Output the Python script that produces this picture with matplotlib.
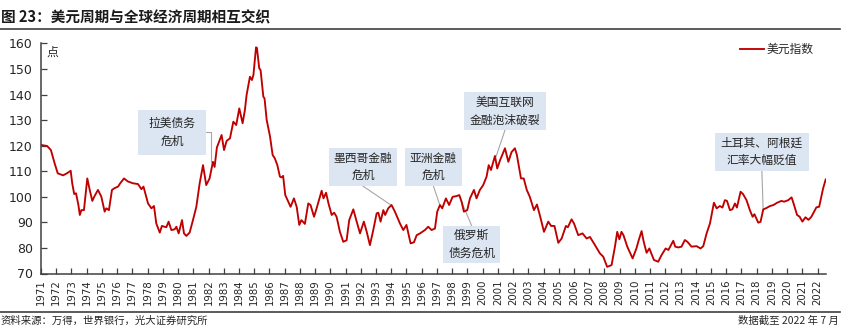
import matplotlib
matplotlib.use('Agg')
import matplotlib.pyplot as plt
from matplotlib.patches import Rectangle
from matplotlib.lines import Line2D

# ---------------- data ----------------
years = [
    1971.00, 1971.40, 1971.65, 1971.80, 1971.90, 1972.10, 1972.45, 1972.70, 1972.95,
    1973.05, 1973.18, 1973.30, 1973.45, 1973.55, 1973.65, 1973.82, 1974.04, 1974.20,
    1974.37, 1974.50, 1974.74, 1974.96, 1975.18, 1975.29, 1975.46, 1975.66, 1975.83,
    1976.06, 1976.20, 1976.45, 1976.71, 1977.04, 1977.37, 1977.59, 1977.73, 1978.03,
    1978.25, 1978.42, 1978.57, 1978.80, 1978.94, 1979.23, 1979.38, 1979.56, 1979.78,
    1979.89, 1980.04, 1980.26, 1980.39, 1980.54, 1980.76, 1980.98, 1981.20, 1981.42,
    1981.64, 1981.85, 1982.07, 1982.29, 1982.40, 1982.55, 1982.86, 1983.02, 1983.19,
    1983.41, 1983.63, 1983.82, 1984.02, 1984.24, 1984.39, 1984.50, 1984.72, 1984.85,
    1984.95, 1985.12, 1985.18, 1985.33, 1985.42, 1985.60, 1985.68, 1985.82, 1986.04,
    1986.21, 1986.35, 1986.52, 1986.69, 1986.80, 1986.90, 1987.04, 1987.24, 1987.39,
    1987.61, 1987.79, 1987.96, 1988.10, 1988.33, 1988.55, 1988.70, 1988.93, 1989.10,
    1989.25, 1989.43, 1989.55, 1989.72, 1989.88, 1990.09, 1990.25, 1990.41, 1990.63,
    1990.85, 1991.07, 1991.24, 1991.51, 1991.73, 1991.95, 1992.20, 1992.39, 1992.60,
    1992.82, 1993.04, 1993.15, 1993.30, 1993.48, 1993.60, 1993.80, 1994.02, 1994.24,
    1994.57, 1994.79, 1995.00, 1995.27, 1995.49, 1995.67, 1995.89, 1996.21, 1996.43,
    1996.65, 1996.87, 1997.02, 1997.20, 1997.35, 1997.59, 1997.80, 1998.03, 1998.29,
    1998.47, 1998.62, 1998.77, 1998.99, 1999.17, 1999.43, 1999.60, 1999.82, 2000.04,
    2000.26, 2000.40, 2000.55, 2000.81, 2000.96, 2001.15, 2001.47, 2001.69, 2001.90,
    2002.12, 2002.25, 2002.52, 2002.70, 2002.90, 2003.10, 2003.37, 2003.57, 2003.81,
    2004.03, 2004.31, 2004.50, 2004.72, 2004.97, 2005.19, 2005.47, 2005.60, 2005.84,
    2006.00, 2006.28, 2006.56, 2006.83, 2007.05, 2007.38, 2007.70, 2007.92, 2008.18,
    2008.47, 2008.69, 2008.84, 2008.98, 2009.12, 2009.25, 2009.50, 2009.85, 2010.10,
    2010.25, 2010.44, 2010.58, 2010.77, 2010.95, 2011.25, 2011.53, 2011.75, 2012.02,
    2012.20, 2012.52, 2012.65, 2012.85, 2013.06, 2013.28, 2013.45, 2013.72, 2014.05,
    2014.31, 2014.49, 2014.71, 2014.93, 2015.19, 2015.37, 2015.58, 2015.75, 2015.91,
    2016.05, 2016.24, 2016.40, 2016.57, 2016.70, 2016.94, 2017.10, 2017.33, 2017.55,
    2017.73, 2017.85, 2018.10, 2018.25, 2018.43, 2018.60, 2018.87, 2019.10, 2019.34,
    2019.62, 2019.80, 2020.07, 2020.29, 2020.42, 2020.65, 2020.82, 2021.00, 2021.20,
    2021.40, 2021.59, 2021.92, 2022.10, 2022.36, 2022.53,
]
usd_index = [
    120.3, 119.9, 118.3, 115.1, 113.0, 109.2, 108.4, 109.2, 110.2,
    105.3, 101.1, 101.4, 97.0, 92.9, 94.8, 94.8, 107.2, 102.7,
    98.4, 100.1, 102.7, 100.1, 94.2, 95.5, 94.8, 102.7, 103.4,
    104.0, 105.3, 107.2, 106.0, 105.3, 105.0, 103.0, 104.0, 97.4,
    95.5, 96.4, 89.6, 86.0, 88.6, 88.1, 90.3, 87.0, 87.3,
    88.3, 85.7, 90.9, 85.7, 84.7, 86.0, 90.9, 96.1, 105.3,
    112.4, 104.6, 107.2, 113.7, 111.7, 119.3, 124.2, 118.3, 121.9,
    122.9, 129.4, 128.1, 134.6, 128.8, 134.0, 139.8, 147.0, 145.7,
    147.7, 158.5, 158.3, 150.3, 149.6, 139.2, 138.5, 130.1, 123.6,
    116.4, 115.1, 112.4, 107.9, 107.6, 108.2, 100.7, 98.1, 96.1,
    99.4, 96.1, 89.0, 90.9, 89.4, 97.4, 96.8, 92.2, 95.5,
    98.7, 102.4, 99.4, 101.6, 97.4, 92.9, 93.8, 92.2, 86.3,
    82.4, 83.0, 90.9, 95.1, 90.3, 85.7, 90.3, 86.3, 81.1,
    87.0, 93.5, 93.8, 90.3, 94.8, 92.9, 95.5, 96.8, 94.2,
    89.6, 87.0, 89.0, 81.8, 82.2, 85.0, 85.7, 87.0, 88.3,
    87.0, 87.6, 94.2, 96.8, 95.5, 99.4, 96.8, 100.0, 100.3,
    100.7, 98.1, 94.2, 94.8, 99.4, 102.7, 99.4, 102.7, 104.6,
    107.9, 112.4, 110.5, 116.0, 111.1, 114.4, 119.0, 113.7, 117.5,
    119.0, 116.4, 107.2, 107.2, 102.7, 100.0, 94.8, 97.0, 91.6,
    86.3, 90.3, 88.6, 88.6, 82.0, 83.7, 88.6, 88.1, 91.2,
    89.6, 85.0, 85.7, 83.7, 84.3, 81.1, 77.9, 76.6, 72.6,
    73.3, 80.5, 86.3, 83.4, 86.3, 85.0, 80.5, 75.9, 79.8,
    83.0, 86.6, 82.4, 78.1, 79.8, 75.3, 74.6, 77.2, 79.8,
    79.2, 82.8, 80.5, 80.2, 80.5, 83.1, 82.4, 80.5, 80.7,
    79.8, 80.7, 85.7, 89.6, 97.7, 95.5, 96.4, 95.8, 98.7,
    98.4, 94.8, 95.1, 97.4, 95.8, 102.0, 101.1, 98.7, 94.8,
    92.2, 93.2, 89.9, 90.2, 95.1, 95.5, 96.4, 96.8, 97.7,
    98.4, 98.1, 98.7, 99.8, 97.4, 92.9, 92.2, 90.3, 92.0,
    91.0, 92.2, 95.9, 96.1, 103.3, 106.8,
]
year_ticks = list(range(1971, 2023))
y_ticks = list(range(70, 161, 10))
series_name = '美元指数'
unit_label = '点'
title = '图 23：美元周期与全球经济周期相互交织'
source = '资料来源：万得，世界银行，光大证券研究所'
note = '数据截至 2022 年 7 月'

# event annotations: text, box (x0, x1, y0, y1) in data units, connector start, connector end
events_text = ['拉美债务\n危机', '墨西哥金融\n危机', '亚洲金融\n危机',
               '美国互联网\n金融泡沫破裂', '俄罗斯\n债务危机', '土耳其、阿根廷\n汇率大幅贬值']
events_box = [(1977.37, 1981.83, 116.4, 134.0),
              (1989.91, 1994.37, 104.2, 119.1),
              (1994.90, 1998.64, 104.2, 119.1),
              (1998.77, 2004.16, 126.1, 141.0),
              (1997.43, 2001.14, 74.0, 88.7),
              (2015.25, 2021.43, 110.1, 125.0)]
events_from = [(1981.83, 125.4), (1992.14, 104.2), (1996.77, 104.2),
               (2001.47, 126.1), (1999.28, 88.7), (2018.34, 110.1)]
events_to = [(1982.18, 113.7), (1994.03, 96.6), (1997.20, 96.6),
             (2000.88, 115.7), (1998.45, 100.5), (2018.42, 95.3)]
events_elbow = [True, False, False, False, False, False]

# ---------------- drawing ----------------
plt.rcParams['font.family'] = ['DejaVu Sans', 'Noto Sans CJK SC']
CJK = ['Noto Sans CJK SC', 'DejaVu Sans']
W, H = 864, 330
RED = '#C00000'
DARK = '#262626'
AXC = '#404040'

fig = plt.figure(figsize=(W / 100, H / 100), dpi=100)
ax = fig.add_axes([41 / W, 1 - 273.5 / H, (826 - 41) / W, (273.5 - 43.5) / H])

ax.plot(years, usd_index, color=RED, lw=1.35, label=series_name, zorder=4,
        solid_joinstyle='round')

ax.set_xlim(1971, 2022.55)
ax.set_ylim(70, 160)
ax.set_xticks(year_ticks)
ax.set_xticklabels([str(y) for y in year_ticks], rotation=90, fontsize=7.3, color=DARK)
ax.set_yticks(y_ticks)
ax.set_yticklabels([str(v) for v in y_ticks], fontsize=9, color=DARK)
ax.tick_params(axis='x', direction='in', length=4, width=0.9, color=AXC, pad=4)
ax.tick_params(axis='y', direction='in', length=4, width=0.9, color=AXC, pad=6)
for s in ('top', 'right'):
    ax.spines[s].set_visible(False)
for s in ('left', 'bottom'):
    ax.spines[s].set_color(AXC)
    ax.spines[s].set_linewidth(1.1)

# unit label
ax.text((52 - 41) / 785, (273.5 - 52) / 230, unit_label, transform=ax.transAxes,
        ha='center', va='center', fontsize=8.5, family=CJK, color=DARK)

# legend
leg = ax.legend(loc='center left', bbox_to_anchor=((740 - 41) / 785, (273.5 - 49.5) / 230),
                frameon=False, borderpad=0, borderaxespad=0, handlelength=2.0,
                handletextpad=0.25, prop={'family': CJK, 'size': 8.5})
for t in leg.get_texts():
    t.set_color(DARK)

# event boxes and connectors
for txt, (x0, x1, y0, y1), p0, p1, elbow in zip(events_text, events_box, events_from,
                                               events_to, events_elbow):
    ax.add_patch(Rectangle((x0, y0), x1 - x0, y1 - y0, facecolor='#DCE6F2',
                           edgecolor='none', zorder=5))
    ax.text((x0 + x1) / 2, (y0 + y1) / 2, txt, ha='center', va='center', fontsize=8.5,
            family=CJK, color=DARK, linespacing=1.45, zorder=6)
    cs = 'angle,angleA=0,angleB=90,rad=0' if elbow else 'arc3,rad=0'
    ax.annotate('', xy=p1, xytext=p0,
                arrowprops=dict(arrowstyle='-', color='#A6A6A6', lw=0.8,
                                shrinkA=0, shrinkB=0, connectionstyle=cs), zorder=3)

# title, rules and footers
fig.text(1 / W, 1 - 17 / H, title, fontsize=10.5, fontweight='bold', family=CJK,
         color='#1a1a1a', ha='left', va='center')
fig.add_artist(Line2D([0, 840 / W], [1 - 29 / H] * 2, color=AXC, lw=1.2))
fig.add_artist(Line2D([0, 840 / W], [1 - 311.5 / H] * 2, color=AXC, lw=1.2))
fig.text(1 / W, 1 - 320.5 / H, source, fontsize=7.5, family=CJK, color=DARK,
         ha='left', va='center')
fig.text(839 / W, 1 - 320.5 / H, note, fontsize=7.5, family=CJK, color=DARK,
         ha='right', va='center')

fig.savefig('out.png', dpi=100)
